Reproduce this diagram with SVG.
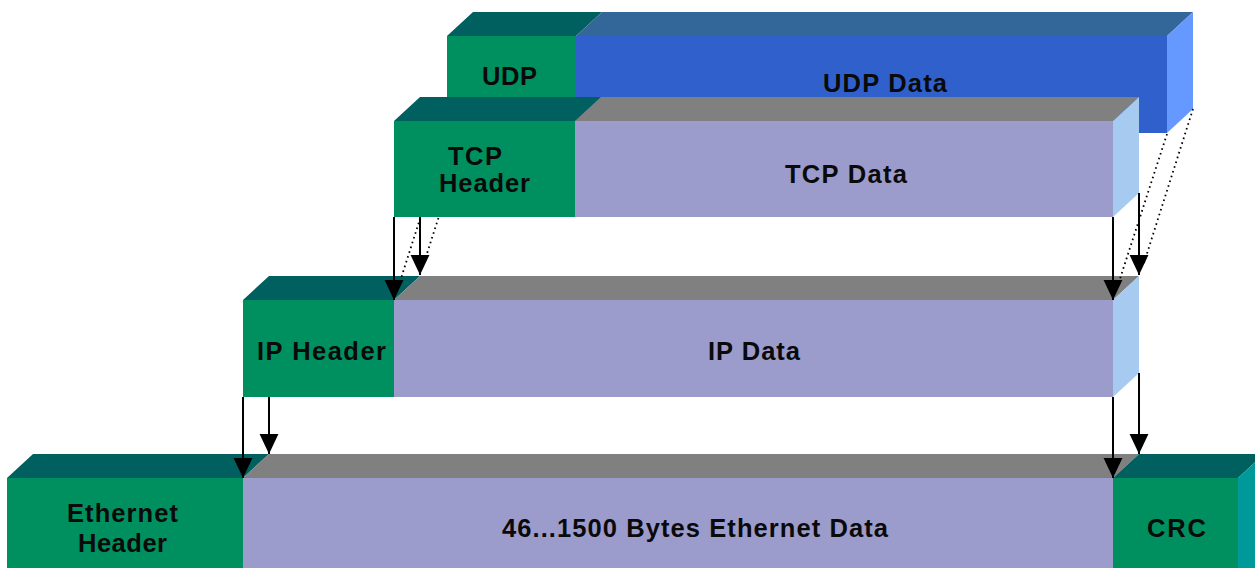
<svg xmlns="http://www.w3.org/2000/svg" width="1255" height="568" viewBox="0 0 1255 568">
<style>
.hf{fill:#009060}
.ht{fill:#005f5f}
.df{fill:#9c9ccc}
.dt{fill:#808080}
.ds{fill:#a6caf0}
.uf{fill:#3060cc}
.ut{fill:#336699}
.us{fill:#6699ff}
.cs{fill:#009999}
text{font-family:"Liberation Sans",Arial,sans-serif;font-weight:bold;font-size:25.5px;fill:#0a0a0a}
.ar{stroke:#000;stroke-width:2;fill:none;marker-end:url(#ah)}
.dot{stroke:#000;stroke-width:1.8;fill:none;stroke-dasharray:1.6 3.4}
</style>
<defs>
<marker id="ah" markerUnits="userSpaceOnUse" markerWidth="22" markerHeight="22" viewBox="-19 -10 21 20" refX="0" refY="0" orient="auto">
<path d="M-19,-9 L0,0 L-19,9 z" fill="#000"/>
</marker>
</defs>
<rect width="1255" height="568" fill="#fff"/>

<g id="udp">
<polygon class="ht" points="447,36 473,12 602,12 576,36"/>
<rect class="hf" x="447" y="36" width="129" height="97"/>
<text x="482" y="85" textLength="55" lengthAdjust="spacing">UDP</text>
</g>
<g id="udp-data">
<polygon class="ut" points="576,36 602,12 1193,12 1167,36"/>
<rect class="uf" x="576" y="36" width="591" height="97"/>
<polygon class="us" points="1167,36 1193,12 1193,109 1167,133"/>
<text x="823" y="92" textLength="124" lengthAdjust="spacing">UDP Data</text>
</g>

<g id="tcp">
<polygon class="ht" points="394,121 420,97 601,97 575,121"/>
<rect class="hf" x="394" y="121" width="181" height="96"/>
<text x="448" y="165" textLength="54" lengthAdjust="spacing">TCP</text>
<text x="439" y="192" textLength="91" lengthAdjust="spacing">Header</text>
</g>
<g id="tcp-data">
<polygon class="dt" points="575,121 601,97 1139,97 1113,121"/>
<rect class="df" x="575" y="121" width="538" height="96"/>
<polygon class="ds" points="1113,121 1139,97 1139,193 1113,217"/>
<text x="785" y="183" textLength="122" lengthAdjust="spacing">TCP Data</text>
</g>

<g id="ip">
<polygon class="ht" points="243,300 269,276 420,276 394,300"/>
<rect class="hf" x="243" y="300" width="151" height="97"/>
<text x="257" y="360" textLength="129" lengthAdjust="spacing">IP Header</text>
</g>
<g id="ip-data">
<polygon class="dt" points="394,300 420,276 1139,276 1113,300"/>
<rect class="df" x="394" y="300" width="719" height="97"/>
<polygon class="ds" points="1113,300 1139,276 1139,373 1113,397"/>
<text x="708" y="360" textLength="92" lengthAdjust="spacing">IP Data</text>
</g>

<g id="eth">
<polygon class="ht" points="7,478 33,454 269,454 243,478"/>
<rect class="hf" x="7" y="478" width="236" height="95"/>
<text x="67" y="522" textLength="111" lengthAdjust="spacing">Ethernet</text>
<text x="78" y="552" textLength="89" lengthAdjust="spacing">Header</text>
</g>
<g id="eth-data">
<polygon class="dt" points="243,478 269,454 1139,454 1113,478"/>
<rect class="df" x="243" y="478" width="870" height="95"/>
<text x="502" y="537" textLength="386" lengthAdjust="spacing">46...1500 Bytes Ethernet Data</text>
</g>
<g id="crc">
<polygon class="ht" points="1113,478 1139,454 1264,454 1238,478"/>
<rect class="hf" x="1113" y="478" width="125" height="95"/>
<polygon class="cs" points="1238,478 1264,454 1264,573 1238,573"/>
<text x="1147" y="537" textLength="59" lengthAdjust="spacing">CRC</text>
</g>

<g id="connectors">
<line class="dot" x1="420.3" y1="218" x2="397" y2="291"/>
<line class="dot" x1="438.4" y1="218" x2="423" y2="266"/>
<line class="dot" x1="1167" y1="134" x2="1116" y2="291"/>
<line class="dot" x1="1193" y1="109" x2="1143" y2="266"/>
<line class="ar" x1="394" y1="217" x2="394" y2="300"/>
<line class="ar" x1="420" y1="217" x2="420" y2="275"/>
<line class="ar" x1="1113" y1="217" x2="1113" y2="300"/>
<line class="ar" x1="1139" y1="193" x2="1139" y2="275"/>
<line class="ar" x1="243" y1="397" x2="243" y2="478"/>
<line class="ar" x1="269" y1="397" x2="269" y2="454"/>
<line class="ar" x1="1113" y1="397" x2="1113" y2="478"/>
<line class="ar" x1="1139" y1="373" x2="1139" y2="454"/>
</g>
</svg>
